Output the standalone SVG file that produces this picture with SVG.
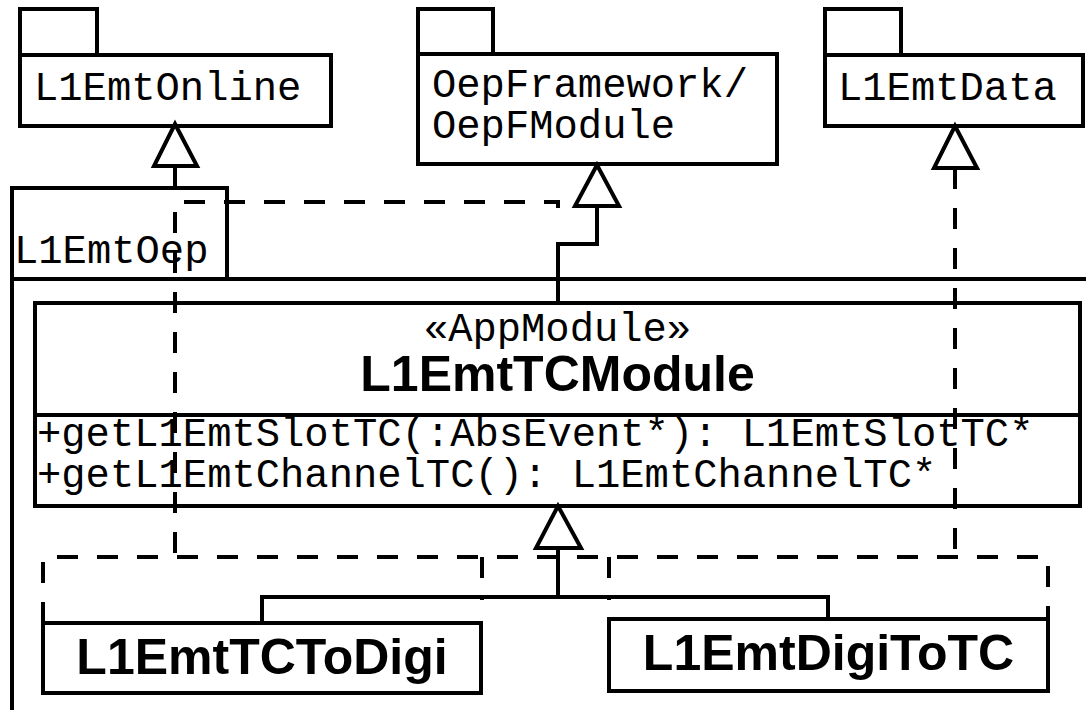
<svg xmlns="http://www.w3.org/2000/svg" width="1086" height="710" viewBox="0 0 1086 710">
  <style>
    .box { fill: #fff; stroke: #000; stroke-width: 4; }
    .line { fill: none; stroke: #000; stroke-width: 4; }
    .dash { fill: none; stroke: #000; stroke-width: 4; stroke-dasharray: 21 19; }
    .head { fill: #fff; stroke: #000; stroke-width: 4; stroke-linejoin: miter; }
    .mono { font-family: "Liberation Mono", "DejaVu Sans Mono", monospace; font-size: 40.5px; fill: #000; }
    .bold { font-family: "Liberation Sans", Arial, sans-serif; font-weight: bold; font-size: 50px; fill: #000; }
  </style>
  <rect width="1086" height="710" fill="#fff"/>

  <!-- enclosing package L1EmtOep -->
  <g id="pkg-L1EmtOep">
    <rect class="box" x="12" y="188" width="215" height="91"/>
    <rect class="box" x="12" y="279" width="1100" height="460"/>
    <text class="mono" x="14" y="263">L1EmtOep</text>
  </g>

  <g id="pkg-L1EmtOnline">
    <rect class="box" x="20" y="9" width="77" height="46"/>
    <rect class="box" x="20" y="55" width="311" height="71"/>
    <text class="mono" x="34" y="100">L1EmtOnline</text>
  </g>

  <g id="pkg-OepFModule">
    <rect class="box" x="418" y="9" width="75" height="45"/>
    <rect class="box" x="418" y="54" width="359" height="110"/>
    <text class="mono" x="432" y="97">OepFramework/</text>
    <text class="mono" x="432" y="138">OepFModule</text>
  </g>

  <g id="pkg-L1EmtData">
    <rect class="box" x="825" y="9" width="76" height="46"/>
    <rect class="box" x="825" y="55" width="258" height="71"/>
    <text class="mono" x="838" y="100">L1EmtData</text>
  </g>

  <g id="cls-L1EmtTCModule">
    <rect class="box" x="35" y="303" width="1045" height="203"/>
    <line class="line" x1="35" y1="415" x2="1080" y2="415"/>
    <text class="mono" x="557.5" y="341" text-anchor="middle">«AppModule»</text>
    <text class="bold" x="557.5" y="391" text-anchor="middle">L1EmtTCModule</text>
    <text class="mono" x="37" y="446">+getL1EmtSlotTC(:AbsEvent*): L1EmtSlotTC*</text>
    <text class="mono" x="37" y="487">+getL1EmtChannelTC(): L1EmtChannelTC*</text>
  </g>

  <g id="cls-L1EmtTCToDigi">
    <rect class="box" x="43" y="623" width="438" height="70"/>
    <text class="bold" x="262" y="674" text-anchor="middle">L1EmtTCToDigi</text>
  </g>

  <g id="cls-L1EmtDigiToTC">
    <rect class="box" x="609" y="619" width="439" height="72"/>
    <text class="bold" x="828.5" y="670" text-anchor="middle">L1EmtDigiToTC</text>
  </g>

  <g id="connectors">
    <!-- dependencies (dashed) -->
    <path class="dash" d="M175 553 V202 H558 V208"/>
    <path class="dash" d="M955 168 V553"/>
    <path class="dash" d="M43 623 V557 H1048 V619"/>
    <path class="dash" d="M482 557 V600"/>
    <path class="dash" d="M609 557 V600"/>

    <!-- generalizations (solid) -->
    <path class="line" d="M175 166 V188"/>
    <path class="line" d="M597 206 V244 H558 V303"/>
    <path class="line" d="M558 548 V597"/>
    <path class="line" d="M262 623 V597 H828 V619"/>

    <!-- hollow triangle heads -->
    <polygon class="head" points="175,124 154,166 197,166"/>
    <polygon class="head" points="597,165 575,206 619,206"/>
    <polygon class="head" points="955,126 934,168 977,168"/>
    <polygon class="head" points="558,506 536,548 581,548"/>
  </g>
</svg>
